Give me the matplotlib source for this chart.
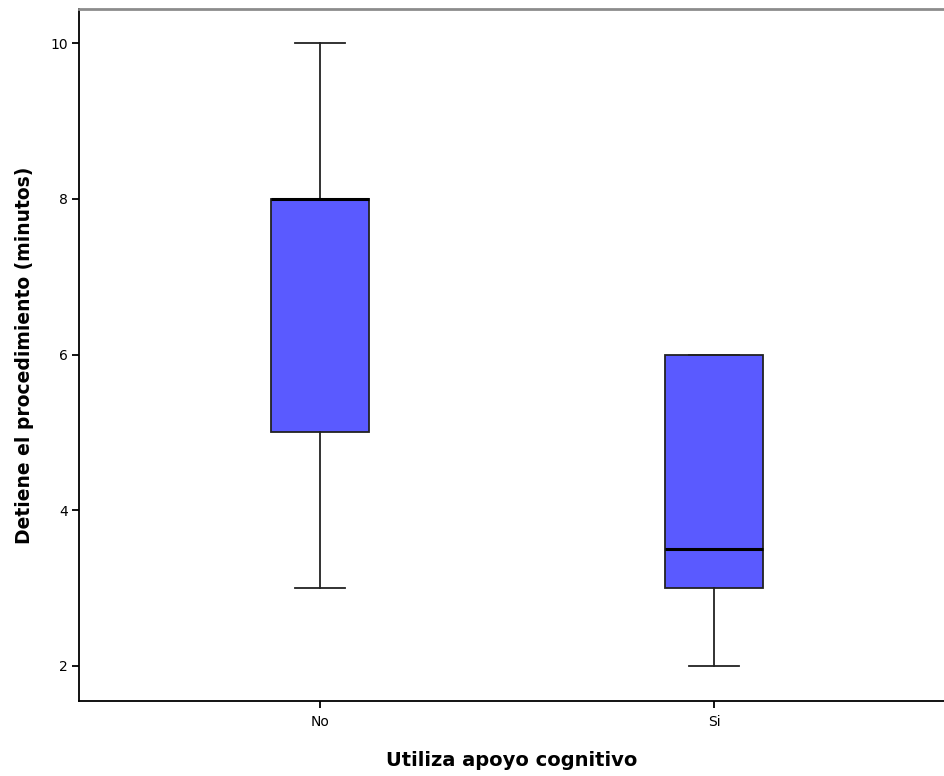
import matplotlib
matplotlib.use('Agg')
import matplotlib.pyplot as plt

categories = ['No', 'Si']
whisker_low = [3, 2]
q1 = [5, 3]
medians = [8, 3.5]
q3 = [8, 6]
whisker_high = [10, 6]

stats = []
for i, cat in enumerate(categories):
    stats.append({'label': cat, 'whislo': whisker_low[i], 'q1': q1[i], 'med': medians[i],
                  'q3': q3[i], 'whishi': whisker_high[i], 'fliers': []})

fig = plt.figure(figsize=(9.44, 7.76), dpi=100)
ax = fig.add_axes([79/944, 1 - 701/776, 1 - 79/944, (701 - 9)/776])

ax.bxp(stats, positions=[0, 1], widths=0.25, patch_artist=True, showfliers=False,
       boxprops=dict(facecolor='#5a5aff', edgecolor='#222222', linewidth=1.3),
       medianprops=dict(color='black', linewidth=2.2),
       whiskerprops=dict(color='#222222', linewidth=1.3),
       capprops=dict(color='#222222', linewidth=1.3),
       capwidths=0.127)

ax.set_xlim(-0.612, 1.584)
ax.set_ylim(1.55, 10.44)
ax.set_yticks([2, 4, 6, 8, 10])
ax.set_xticks([0, 1])
ax.set_xticklabels(categories)

ax.spines['right'].set_visible(False)
ax.spines['top'].set_color('#8c8c8c')
ax.spines['top'].set_linewidth(2)
ax.spines['left'].set_linewidth(1.3)
ax.spines['bottom'].set_linewidth(1.3)
ax.tick_params(axis='both', length=5, width=1.3, labelsize=10, direction='out')
ax.tick_params(axis='x', pad=5)
ax.tick_params(axis='y', pad=3)
ax.tick_params(top=False, right=False)

ax.set_xlabel('Utiliza apoyo cognitivo', fontsize=14, fontweight='bold', labelpad=16)
ax.set_ylabel('Detiene el procedimiento (minutos)', fontsize=13.5, fontweight='bold', labelpad=12)

fig.savefig('out.png', dpi=100)
